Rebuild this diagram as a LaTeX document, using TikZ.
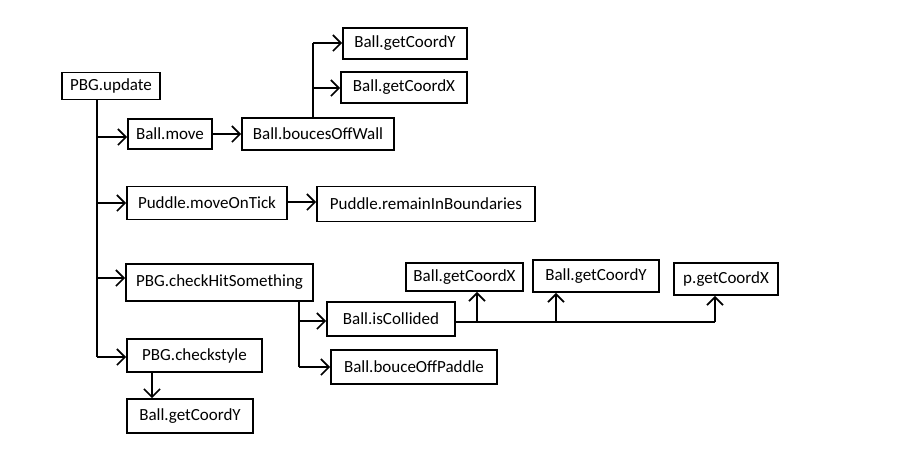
\documentclass[tikz,border=0pt]{standalone}
\usepackage{fontspec}
\setmainfont{Carlito}
\usetikzlibrary{arrows.meta}
\begin{document}
\begin{tikzpicture}[x=1pt,y=-1pt,
  box/.style={draw,line width=1.7pt,inner sep=0pt,font=\fontsize{17}{17}\selectfont},
  conn/.style={line width=1.7pt},
  arr/.style={conn,-{Straight Barb[length=8pt,width=16pt,line width=1.7pt]}}]
\useasboundingbox (0,0) rectangle (904,456);
\node[box,minimum width=98pt,minimum height=27pt] (upd) at (111,86) {PBG.update};
\node[box,minimum width=84pt,minimum height=30pt] (move) at (170,134) {Ball.move};
\node[box,minimum width=152pt,minimum height=32pt] (wall) at (318,134) {Ball.boucesOffWall};
\node[box,minimum width=124pt,minimum height=31pt] (gy1) at (405,43.5) {Ball.getCoordY};
\node[box,minimum width=126pt,minimum height=31pt] (gx1) at (404,87.5) {Ball.getCoordX};
\node[box,minimum width=160pt,minimum height=33pt] (tick) at (207,203) {Puddle.moveOnTick};
\node[box,minimum width=218pt,minimum height=35pt] (rem) at (426,204) {Puddle.remainInBoundaries};
\node[box,minimum width=187pt,minimum height=37pt] (hit) at (219.5,282.5) {PBG.checkHitSomething};
\node[box,minimum width=128pt,minimum height=34pt] (coll) at (391,319) {Ball.isCollided};
\node[box,minimum width=166pt,minimum height=34pt] (pad) at (414,367) {Ball.bouceOffPaddle};
\node[box,minimum width=117pt,minimum height=28pt] (gx2) at (464.5,277) {Ball.getCoordX};
\node[box,minimum width=126pt,minimum height=32pt] (gy2) at (596,276) {Ball.getCoordY};
\node[box,minimum width=104pt,minimum height=32pt] (pgx) at (726,279) {p.getCoordX};
\node[box,minimum width=135pt,minimum height=33pt] (style) at (194.5,355.5) {PBG.checkstyle};
\node[box,minimum width=126pt,minimum height=34pt] (gy3) at (190,416) {Ball.getCoordY};
% trunk
\coordinate (tx) at (97,0);
\coordinate (t1) at (97,137);
\coordinate (t2) at (97,203);
\coordinate (t3) at (97,278);
\coordinate (t4) at (97,357);
\draw[conn] (upd.south -| tx) -- (t4);
\draw[arr] (t1) -- (move.west |- t1);
\draw[arr] (t2) -- (tick.west |- t2);
\draw[arr] (t3) -- (hit.west |- t3);
\draw[arr] (t4) -- (style.west |- t4);
\draw[arr] (move) -- (wall);
\coordinate (p1) at (0,202);
\draw[arr] (tick.east |- p1) -- (rem.west |- p1);
% wall branch
\coordinate (w0) at (313,0);
\coordinate (w1) at (313,43);
\coordinate (w2) at (313,88);
\draw[conn] (wall.north -| w0) -- (w1);
\draw[arr] (w1) -- (gy1.west |- w1);
\draw[arr] (w2) -- (gx1.west |- w2);
% checkstyle
\coordinate (s0) at (152,0);
\draw[arr] (style.south -| s0) -- (gy3.north -| s0);
% hit branch
\coordinate (h0) at (299,0);
\coordinate (h1) at (299,321);
\coordinate (h2) at (299,367);
\draw[conn] (hit.south -| h0) -- (h2);
\draw[arr] (h1) -- (coll.west |- h1);
\draw[arr] (h2) -- (pad.west |- h2);
% collided
\coordinate (c1) at (477,322);
\coordinate (c2) at (556,322);
\coordinate (c3) at (715,322);
\draw[conn] (coll.east |- c1) -- (c3);
\draw[arr] (c1) -- (gx2.south -| c1);
\draw[arr] (c2) -- (gy2.south -| c2);
\draw[arr] (c3) -- (pgx.south -| c3);
\end{tikzpicture}
\end{document}
